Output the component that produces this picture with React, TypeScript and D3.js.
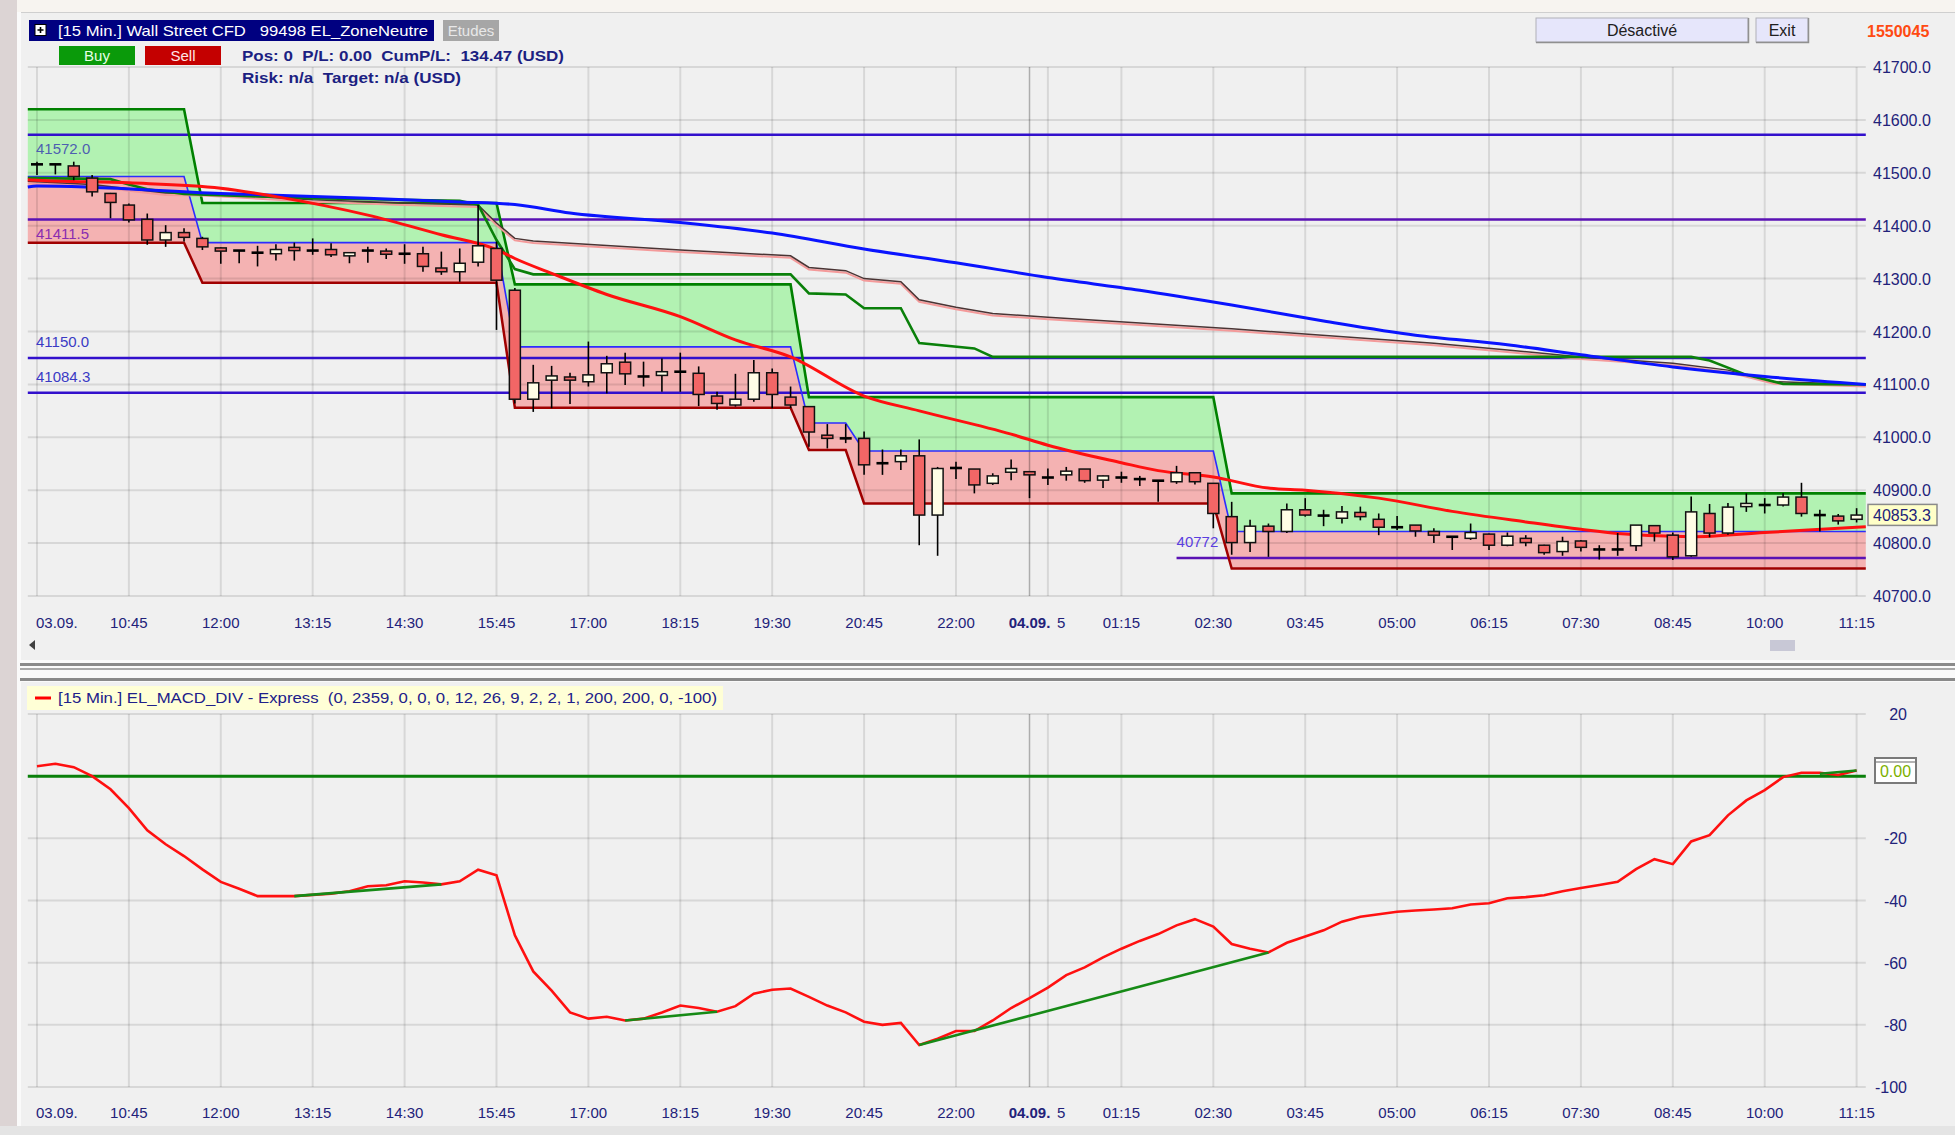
import * as d3 from "d3";

const FONT = "'Liberation Sans', Arial, sans-serif";

// 15 min candles, 03.09 09:30 -> 04.09 11:15 (market pause 23:00-00:00)
const OPEN = [
  41516, 41516, 41513, 41490, 41461, 41439, 41412, 41373, 41387, 41376,
  41358, 41353, 41349, 41347, 41359, 41353, 41355, 41343, 41353, 41352,
  41347, 41347, 41320, 41313, 41331, 41357, 41278, 41072, 41108, 41114,
  41105, 41122, 41142, 41115, 41117, 41124, 41121, 41078, 41061, 41072,
  41122, 41076, 41058, 41004, 40998, 40998, 40951, 40954, 40965, 40853,
  40942, 40940, 40913, 40934, 40935, 40924, 40929, 40940, 40919, 40924,
  40921, 40918, 40916, 40933, 40913, 40850, 40801, 40832, 40822, 40863,
  40852, 40847, 40858, 40845, 40830, 40834, 40822, 40812, 40809, 40817,
  40796, 40809, 40796, 40784, 40804, 40788, 40788, 40795, 40833, 40815,
  40776, 40856, 40819, 40869, 40872, 40872, 40887, 40853, 40851, 40845,
];
const HIGH = [
  41521, 41517, 41521, 41496, 41462, 41442, 41423, 41401, 41395, 41379,
  41359, 41353, 41362, 41365, 41368, 41376, 41367, 41350, 41360, 41357,
  41365, 41360, 41351, 41357, 41439, 41370, 41282, 41137, 41135, 41122,
  41181, 41154, 41160, 41143, 41149, 41160, 41134, 41086, 41120, 41146,
  41130, 41096, 41058, 41025, 41025, 41011, 40977, 40977, 40996, 40944,
  40954, 40940, 40932, 40958, 40936, 40941, 40944, 40940, 40928, 40935,
  40927, 40919, 40946, 40934, 40913, 40878, 40844, 40837, 40875, 40885,
  40863, 40870, 40869, 40856, 40851, 40834, 40828, 40813, 40837, 40818,
  40820, 40815, 40797, 40812, 40806, 40796, 40819, 40834, 40834, 40820,
  40888, 40874, 40876, 40894, 40885, 40894, 40914, 40863, 40855, 40866,
];
const LOW = [
  41496, 41497, 41486, 41455, 41414, 41406, 41364, 41360, 41370, 41354,
  41328, 41329, 41323, 41334, 41334, 41345, 41341, 41329, 41330, 41337,
  41328, 41313, 41307, 41294, 41323, 41203, 41064, 41048, 41055, 41063,
  41096, 41083, 41099, 41096, 41086, 41086, 41059, 41052, 41058, 41067,
  41055, 41055, 40982, 40979, 40989, 40929, 40929, 40938, 40796, 40776,
  40921, 40894, 40910, 40919, 40885, 40910, 40918, 40914, 40904, 40914,
  40908, 40878, 40912, 40911, 40828, 40778, 40783, 40774, 40819, 40850,
  40832, 40837, 40843, 40815, 40825, 40812, 40800, 40787, 40806, 40787,
  40794, 40794, 40778, 40776, 40784, 40769, 40776, 40785, 40803, 40768,
  40774, 40811, 40816, 40859, 40856, 40869, 40850, 40822, 40835, 40839,
];
const CLOSE = [
  41516, 41516, 41493, 41464, 41444, 41411, 41373, 41387, 41378, 41360,
  41352, 41353, 41349, 41355, 41353, 41353, 41345, 41349, 41353, 41346,
  41347, 41323, 41313, 41329, 41362, 41297, 41072, 41103, 41116, 41108,
  41118, 41139, 41120, 41115, 41124, 41124, 41081, 41064, 41072, 41122,
  41081, 41061, 41010, 40998, 40998, 40948, 40951, 40965, 40853, 40941,
  40942, 40910, 40927, 40941, 40929, 40924, 40936, 40918, 40927, 40924,
  40921, 40918, 40933, 40916, 40856, 40801, 40832, 40822, 40863, 40853,
  40852, 40859, 40850, 40830, 40830, 40823, 40815, 40812, 40820, 40796,
  40813, 40801, 40782, 40803, 40792, 40788, 40788, 40834, 40819, 40774,
  40859, 40819, 40868, 40875, 40872, 40887, 40856, 40853, 40842, 40853,
];
const LAST_PRICE = 40853.3;

// EL_MACD_DIV, one value per bar
const MACD = [
  3.2, 4.0, 2.9, 0, -4.2, -10.3, -17.4, -21.9, -25.7, -30,
  -34, -36.2, -38.6, -38.6, -38.6, -38.2, -37.8, -37, -35.4, -35.1,
  -33.8, -34.2, -34.8, -33.8, -30.1, -31.9, -51.2, -62.8, -69, -76,
  -78, -77.4, -78.6, -78, -76, -73.8, -74.6, -75.8, -74, -70,
  -68.7, -68.3, -71, -73.8, -76, -79, -80, -79.4, -86.5, -84.5,
  -82, -82, -78.6, -74.6, -71.4, -68, -64, -61.5, -58.3, -55.5,
  -53, -50.8, -48, -46, -48.4, -54, -55.5, -56.7, -53.6, -51.6,
  -49.6, -46.8, -45.2, -44.4, -43.6, -43.2, -42.9, -42.5, -41.3, -40.9,
  -39.3, -38.9, -38.3, -37, -36, -35, -34, -29.9, -26.7, -28.3,
  -21, -19, -12.6, -7.8, -4.5, -0.3, 1.1, 1.1, 0.4, 1.8,
];
// divergence segments [bar, value]
const DIV_LINES: [number, number][][] = [
  [[14, -38.6], [22, -34.8]],
  [[32, -78.6], [37, -75.8]],
  [[48, -86.5], [67, -56.7]],
  [[97, 0.8], [99, 1.8]],
];

// EL_ZoneNeutre bands (first bar of each step)
const ZONE_START = [0, 9, 26, 42, 45, 65];
const ZONE_GREEN = [41620, 41443, 41289, 41076, 41076, 40894];
const ZONE_BLUE = [41493, 41368, 41171, 41027, 40974, 40822];
const ZONE_RED = [41368, 41292, 41056, 40976, 40875, 40752];

// moving averages [bar, price]
const MA_RED: [number, number][] = [
  [-0.5, 41487], [0, 41486], [5, 41481], [10, 41471], [13, 41455], [18, 41420],
  [22, 41383], [25, 41355], [26, 41338], [28, 41310], [31, 41270], [35, 41228],
  [38, 41184], [41, 41152], [45, 41078], [48, 41050], [53, 41006], [55, 40985],
  [59, 40952], [61, 40937], [64, 40925], [67, 40904], [69, 40900], [73, 40885],
  [77, 40860], [81, 40840], [84, 40826], [86, 40818], [90, 40812], [94, 40820],
  [99, 40830], [99.5, 40831],
];
const MA_BLUE: [number, number][] = [
  [-0.5, 41473], [0, 41475], [10, 41461], [18, 41452], [23, 41445], [26, 41440],
  [29, 41424], [35, 41406], [40, 41386], [45, 41356], [50, 41330], [55, 41302],
  [60, 41278], [65, 41250], [70, 41220], [75, 41193], [80, 41175], [84, 41156],
  [89, 41133], [94, 41115], [99.5, 41100],
];
const MA_DARK: [number, number][] = [
  [-0.5, 41484], [0, 41483], [3, 41478], [5, 41470], [7, 41462], [9, 41461],
  [15, 41449], [20, 41443], [24, 41439], [25, 41405], [26, 41376], [27, 41371],
  [35, 41354], [41, 41343], [42, 41321], [44, 41315], [45, 41300], [47, 41294],
  [48, 41260], [50, 41246], [52, 41234], [55, 41227], [65, 41205], [76, 41178],
  [80, 41165], [84, 41152], [89, 41140], [92, 41127], [94.5, 41105], [99.5, 41100],
];
const MA_GREEN: [number, number][] = [
  [-0.5, 41490], [0, 41490], [4, 41488], [5, 41478], [6, 41469], [8, 41460],
  [15, 41452], [23, 41447], [24, 41440], [25, 41373], [26, 41318], [27, 41308],
  [41, 41308], [42, 41272], [44, 41270], [45, 41244], [47, 41244], [48, 41178],
  [51, 41168], [52, 41152], [90, 41152], [91, 41145], [93, 41118], [95, 41101],
  [99.5, 41100],
];

// horizontal levels
const LEVELS = [41572.0, 41411.5, 41150.0, 41084.3, 40772.0];
const LEVEL_TEXT = ["41572.0", "41411.5", "41150.0", "41084.3", "40772"];
const LEVEL_FROM_BAR = [-0.5, -0.5, -0.5, -0.5, 62];

const PRICE_TICKS = [40700, 40800, 40900, 41000, 41100, 41200, 41300, 41400, 41500, 41600, 41700];
const MACD_TICKS = [20, 0, -20, -40, -60, -80, -100];
const TIME_BARS = [0, 5, 10, 15, 20, 25, 30, 35, 40, 45, 50, 54, 59, 64, 69, 74, 79, 84, 89, 94, 99];
const TIME_TEXT = [
  "03.09.", "10:45", "12:00", "13:15", "14:30", "15:45", "17:00", "18:15", "19:30", "20:45",
  "22:00", "04.09.", "01:15", "02:30", "03:45", "05:00", "06:15", "07:30", "08:45", "10:00", "11:15",
];
const DAY_BAR = 54;

type Z = { i: number; g: number; b: number; r: number };

export default function App() {
  const W = 1955, H = 1135;
  const x = d3.scaleLinear().domain([-0.5, 99.5]).range([27.8, 1865.8]);
  const yP = d3.scaleLinear().domain([40700, 41700]).range([596, 67]);
  const yM = d3.scaleLinear().domain([-100, 20]).range([1087, 714]);
  const left = x(-0.5), right = x(99.5);
  const bars = d3.range(CLOSE.length);

  const segOf = (i: number) => Math.max(0, d3.bisectRight(ZONE_START, Math.max(0, Math.min(99, i))) - 1);
  const zone: Z[] = [-0.5, ...bars, 99.5].map((i) => {
    const s = segOf(i);
    return { i, g: ZONE_GREEN[s], b: ZONE_BLUE[s], r: ZONE_RED[s] };
  });
  const greenArea = d3.area<Z>().x((d) => x(d.i)).y0((d) => yP(d.b)).y1((d) => yP(d.g));
  const pinkArea = d3.area<Z>().x((d) => x(d.i)).y0((d) => yP(d.r)).y1((d) => yP(d.b));
  const zLine = (k: "g" | "b" | "r") => d3.line<Z>().x((d) => x(d.i)).y((d) => yP(d[k]))(zone) ?? "";

  const maLine = d3.line<[number, number]>().x((d) => x(d[0])).y((d) => yP(d[1]));
  const maSmooth = d3.line<[number, number]>().x((d) => x(d[0])).y((d) => yP(d[1])).curve(d3.curveMonotoneX);
  const macdLine = d3.line<number>().x((_d, i) => x(i)).y((d) => yM(d));
  const divLine = d3.line<[number, number]>().x((d) => x(d[0])).y((d) => yM(d[1]));

  const grid = "rgba(0,0,0,0.1)";
  const navy = "#22227a";
  const gridBars = [...TIME_BARS, DAY_BAR + 1].filter((b) => b !== DAY_BAR);

  const levelBelow = [true, true, false, false, false];

  return (
    <svg width={W} height={H} style={{ position: "absolute", left: 0, top: 0, display: "block" }} fontFamily={FONT}>
      <rect width={W} height={H} fill="#f0f0f0" />
      <rect x={0} y={0} width={W} height={12} fill="#f7f4f0" />
      <line x1={0} x2={W} y1={12.5} y2={12.5} stroke="#cfcfcf" />
      <rect x={0} y={0} width={17} height={H} fill="#dcd4d4" />
      <rect x={17} y={12} width={4} height={H} fill="#fafafa" />
      <rect x={0} y={1126} width={W} height={9} fill="#e4e4e4" />

      {/* header */}
      <rect x={29} y={20} width={405} height={21} fill="#000080" />
      <rect x={35} y={24.5} width={11} height={11} fill="#fff" stroke="#000" />
      <path d="M37.5,30 h6 M40.5,27 v6" stroke="#000" strokeWidth={1.6} />
      <text x={58} y={36} fill="#fff" fontSize={15} style={{ whiteSpace: "pre" }} textLength={370} lengthAdjust="spacingAndGlyphs">
        {"[15 Min.] Wall Street CFD   99498 EL_ZoneNeutre"}
      </text>
      <rect x={443} y={20} width={56} height={21} fill="#a6a6a6" />
      <text x={471} y={36} fill="#e8e8e8" fontSize={15} textAnchor="middle">Etudes</text>
      <rect x={59} y={46} width={76} height={19} fill="#0a9a0a" />
      <text x={97} y={61} fill="#e6ffe6" fontSize={15} textAnchor="middle">Buy</text>
      <rect x={145} y={46} width={76} height={19} fill="#c40000" />
      <text x={183} y={61} fill="#ffe6e6" fontSize={15} textAnchor="middle">Sell</text>
      <text x={242} y={61} fill="#1c1f82" fontSize={15} fontWeight="bold" style={{ whiteSpace: "pre" }} textLength={322} lengthAdjust="spacingAndGlyphs">
        {"Pos: 0  P/L: 0.00  CumP/L:  134.47 (USD)"}
      </text>
      <text x={242} y={83} fill="#1c1f82" fontSize={15} fontWeight="bold" style={{ whiteSpace: "pre" }} textLength={219} lengthAdjust="spacingAndGlyphs">
        {"Risk: n/a  Target: n/a (USD)"}
      </text>
      <rect x={1536} y={18} width={212} height={24} fill="#e6e6fb" stroke="#b0b0b8" />
      <path d="M1536,42.5 H1748.5 V18" fill="none" stroke="#909090" strokeWidth={1.5} />
      <text x={1642} y={36} fontSize={16} textAnchor="middle" fill="#202020">Désactivé</text>
      <rect x={1756} y={18} width={52} height={24} fill="#e6e6fb" stroke="#b0b0b8" />
      <path d="M1756,42.5 H1808.5 V18" fill="none" stroke="#909090" strokeWidth={1.5} />
      <text x={1782} y={36} fontSize={16} textAnchor="middle" fill="#202020">Exit</text>
      <text x={1867} y={37} fontSize={16} fontWeight="bold" fill="#ff4a12">1550045</text>

      {/* ===== main panel ===== */}
      <path d={greenArea(zone) ?? ""} fill="#b2f2b2" />
      <path d={pinkArea(zone) ?? ""} fill="#f4b2b2" />

      {PRICE_TICKS.map((p) => (
        <g key={p}>
          <line x1={left} x2={right} y1={yP(p)} y2={yP(p)} stroke={grid} strokeWidth={2} />
          <text x={1873} y={yP(p) + 6} fontSize={16} fill={navy}>{p.toFixed(1)}</text>
        </g>
      ))}
      {gridBars.map((b) => (
        <line key={b} x1={x(b)} x2={x(b)} y1={yP(41700)} y2={yP(40700)} stroke={grid} strokeWidth={2} />
      ))}
      <line x1={x(DAY_BAR)} x2={x(DAY_BAR)} y1={yP(41700)} y2={yP(40700)} stroke="rgba(0,0,0,0.28)" strokeWidth={1.5} />

      {LEVELS.map((p, k) => (
        <line key={p} x1={x(LEVEL_FROM_BAR[k])} x2={right} y1={yP(p)} y2={yP(p)}
          stroke={k === 1 || k === 4 ? "#5a12b4" : "#3210cc"} strokeWidth={2.5} />
      ))}

      <path d={zLine("b")} fill="none" stroke="#2c2cff" strokeWidth={1.6} />
      <path d={zLine("r")} fill="none" stroke="#a00000" strokeWidth={2.5} />
      <path d={zLine("g")} fill="none" stroke="#008000" strokeWidth={2.6} />

      <path d={maLine(MA_DARK) ?? ""} transform="translate(0,2)" fill="none" stroke="#f49a9a" strokeWidth={2} />
      <path d={maLine(MA_DARK) ?? ""} fill="none" stroke="#4a3434" strokeWidth={1.5} />
      <path d={maLine(MA_GREEN) ?? ""} fill="none" stroke="#0a800a" strokeWidth={2.6} />
      <path d={maSmooth(MA_BLUE) ?? ""} fill="none" stroke="#0a14ff" strokeWidth={3} />
      <path d={maSmooth(MA_RED) ?? ""} fill="none" stroke="#ff1010" strokeWidth={3} />

      {LEVELS.map((p, k) => (
        <text key={p} x={k === 4 ? x(LEVEL_FROM_BAR[k]) : 36} y={yP(p) + (levelBelow[k] ? 19 : -11)} fontSize={15}
          fill={k === 0 ? "#4d5fb0" : k === 1 ? "#8a2cb0" : k === 4 ? "#5a3ee0" : "#3a3ac4"}>
          {LEVEL_TEXT[k]}
        </text>
      ))}

      {bars.map((i) => {
        const o = OPEN[i], c = CLOSE[i];
        const cx = x(i);
        const doji = Math.abs(o - c) < 2;
        return (
          <g key={i}>
            <line x1={cx} x2={cx} y1={yP(HIGH[i])} y2={yP(LOW[i])} stroke="#000" strokeWidth={1.6} />
            {doji ? (
              <line x1={cx - 6} x2={cx + 6} y1={yP(c)} y2={yP(c)} stroke="#000" strokeWidth={2.6} />
            ) : (
              <rect x={cx - 5.5} width={11} y={yP(Math.max(o, c))} height={Math.abs(yP(o) - yP(c))}
                fill={c > o ? "#fffde6" : "#f26666"} stroke="#111" strokeWidth={1.5} />
            )}
          </g>
        );
      })}

      <rect x={1868} y={yP(LAST_PRICE) - 10.5} width={69} height={21} fill="#ffffc8" stroke="#8a8a8a" strokeWidth={1.5} />
      <text x={1873} y={yP(LAST_PRICE) + 6} fontSize={16} fill={navy}>{LAST_PRICE.toFixed(1)}</text>

      {TIME_BARS.map((b, k) => (
        <text key={b} x={k === 0 ? x(b) - 1 : x(b)} y={628} fontSize={15} fill={navy}
          textAnchor={k === 0 ? "start" : "middle"} fontWeight={b === DAY_BAR ? "bold" : "normal"}>
          {TIME_TEXT[k]}
        </text>
      ))}
      <text x={x(DAY_BAR + 1) + 9} y={628} fontSize={15} fill={navy}>5</text>

      {/* scroll strip and separator */}
      <path d="M29,645 l6,-5 v10 z" fill="#404040" />
      <rect x={1770} y={640} width={25} height={11} fill="#c8c8d6" />
      <rect x={20} y={660} width={W - 20} height={22} fill="#fafafa" />
      <rect x={20} y={663} width={W - 20} height={3} fill="#8a8a8a" />
      <rect x={20} y={668} width={W - 20} height={2} fill="#a8a8a8" />
      <rect x={20} y={678} width={W - 20} height={3} fill="#8a8a8a" />

      {/* ===== lower panel ===== */}
      <rect x={27} y={686} width={696} height={24} fill="#ffffd6" />
      <line x1={35} x2={51} y1={698} y2={698} stroke="#ff0000" strokeWidth={3} />
      <text x={58} y={703} fontSize={15} fill="#20208a" style={{ whiteSpace: "pre" }} textLength={659} lengthAdjust="spacingAndGlyphs">
        {"[15 Min.] EL_MACD_DIV - Express  (0, 2359, 0, 0, 0, 12, 26, 9, 2, 2, 1, 200, 200, 0, -100)"}
      </text>

      {MACD_TICKS.map((v) => (
        <g key={v}>
          <line x1={left} x2={right} y1={yM(v)} y2={yM(v)} stroke={grid} strokeWidth={2} />
          {v !== 0 && (
            <text x={1907} y={yM(v) + 6} fontSize={16} fill={navy} textAnchor="end">{v}</text>
          )}
        </g>
      ))}
      {gridBars.map((b) => (
        <line key={b} x1={x(b)} x2={x(b)} y1={yM(20)} y2={yM(-100)} stroke={grid} strokeWidth={2} />
      ))}
      <line x1={x(DAY_BAR)} x2={x(DAY_BAR)} y1={yM(20)} y2={yM(-100)} stroke="rgba(0,0,0,0.28)" strokeWidth={1.5} />

      <line x1={left} x2={right} y1={yM(0)} y2={yM(0)} stroke="#0a800a" strokeWidth={3} />
      <path d={macdLine(MACD) ?? ""} fill="none" stroke="#ff1010" strokeWidth={2.6} />
      {DIV_LINES.map((seg, k) => (
        <path key={k} d={divLine(seg) ?? ""} fill="none" stroke="#168a16" strokeWidth={2.6} />
      ))}

      <rect x={1875} y={758} width={41} height={25} fill="#ffffff" stroke="#7a7a7a" strokeWidth={2} />
      <line x1={1876} x2={1915} y1={762} y2={762} stroke="#9a9a9a" strokeWidth={1.5} />
      <text x={1895.5} y={777} fontSize={16} fill="#7cb000" textAnchor="middle">0.00</text>

      {TIME_BARS.map((b, k) => (
        <text key={b} x={k === 0 ? x(b) - 1 : x(b)} y={1118} fontSize={15} fill={navy}
          textAnchor={k === 0 ? "start" : "middle"} fontWeight={b === DAY_BAR ? "bold" : "normal"}>
          {TIME_TEXT[k]}
        </text>
      ))}
      <text x={x(DAY_BAR + 1) + 9} y={1118} fontSize={15} fill={navy}>5</text>
    </svg>
  );
}
